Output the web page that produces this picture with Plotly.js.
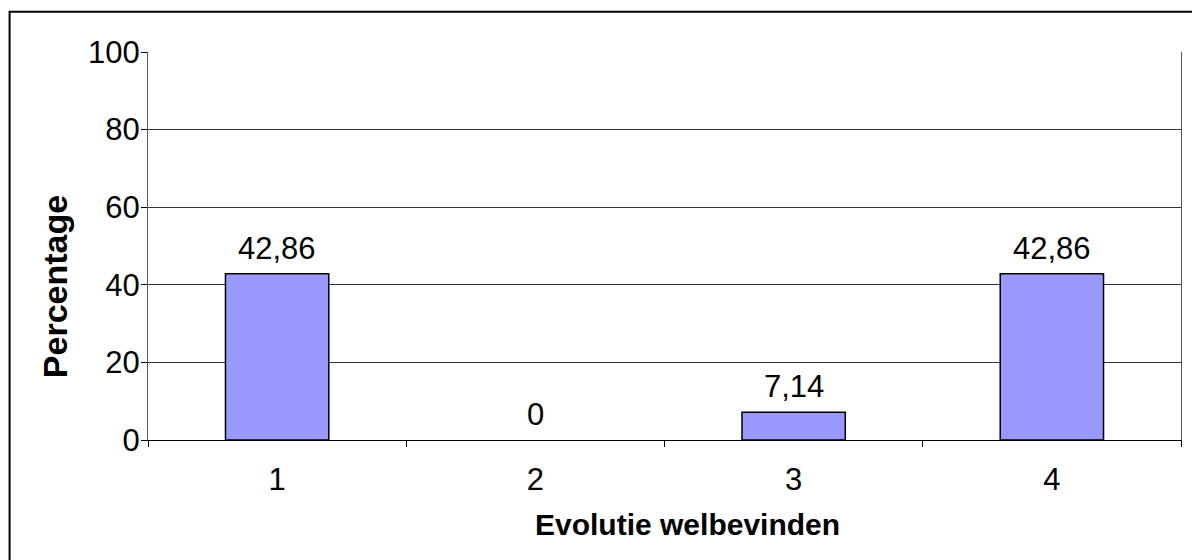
<!DOCTYPE html>
<html>
<head>
<meta charset="utf-8">
<script src="https://cdn.plot.ly/plotly-3.0.1.min.js"></script>
<style>
  html, body { margin: 0; padding: 0; background: #fff; }
  #chart { width: 1192px; height: 560px; }
</style>
</head>
<body>
<div id="chart"></div>
<script>
// Evolutie welbevinden: share of respondents per category (%)
const categories = ['1', '2', '3', '4'];
const percentages = [42.86, 0, 7.14, 42.86];
const yTicks = [0, 20, 40, 60, 80, 100];

// Labels use a decimal comma
const labels = percentages.map(v => String(v).replace('.', ','));
// An empty bar gets no outline
const outlineWidths = percentages.map(v => (v > 0 ? 1.5 : 0));

const font = 'Liberation Sans, Arial, sans-serif';

const trace = {
  type: 'bar',
  x: categories,
  y: percentages,
  marker: { color: '#9999FF', line: { color: '#000', width: outlineWidths } },
  width: 0.4,
  hoverinfo: 'skip'
};

// Value labels sit just above each bar (x is the category's index on the axis)
const valueLabels = categories.map((c, i) => ({
  text: labels[i],
  xref: 'x', yref: 'y',
  x: i, y: percentages[i],
  xanchor: 'center', yanchor: 'bottom',
  yshift: 6,
  showarrow: false,
  font: { family: font, size: 31, color: '#000' }
}));

const layout = {
  width: 1192,
  height: 560,
  margin: { l: 148, r: 11, t: 52, b: 120 },
  paper_bgcolor: '#fff',
  plot_bgcolor: '#fff',
  showlegend: false,
  font: { family: font, size: 30, color: '#000' },
  xaxis: {
    type: 'category',
    range: [-0.5, categories.length - 0.5],
    tickson: 'boundaries',
    ticks: 'outside',
    ticklen: 6,
    tickcolor: '#000',
    tickwidth: 1,
    ticklabelstandoff: 12,
    showline: true,
    linecolor: '#000',
    linewidth: 1,
    showgrid: false,
    tickfont: { family: font, size: 31 }
  },
  yaxis: {
    range: [0, 100],
    tickvals: yTicks,
    ticks: 'outside',
    ticklen: 6,
    tickcolor: '#000',
    ticklabelstandoff: -5,
    showline: true,
    linecolor: '#555',
    linewidth: 1,
    mirror: true,
    showgrid: true,
    gridcolor: '#333',
    gridwidth: 1,
    zeroline: false,
    tickfont: { family: font, size: 31 }
  },
  annotations: valueLabels.concat([
    {
      text: '<b>Evolutie welbevinden</b>',
      xref: 'paper', yref: 'paper',
      x: 0.3727, y: -0.219,
      xanchor: 'left', yanchor: 'middle',
      showarrow: false,
      font: { family: font, size: 30, color: '#000' }
    },
    {
      text: '<b>Percentage</b>',
      xref: 'paper', yref: 'paper',
      x: -0.09, y: 0.394,
      xanchor: 'center', yanchor: 'middle',
      textangle: -90,
      showarrow: false,
      font: { family: font, size: 34, color: '#000' }
    }
  ]),
  shapes: [{
    type: 'rect',
    xref: 'paper', yref: 'paper',
    x0: -0.134, x1: 1.03,
    y0: -0.4, y1: 1.104,
    line: { color: '#000', width: 2 },
    fillcolor: 'rgba(0,0,0,0)',
    layer: 'above'
  }]
};

Plotly.newPlot('chart', [trace], layout, { staticPlot: true, displayModeBar: false });
</script>
</body>
</html>
